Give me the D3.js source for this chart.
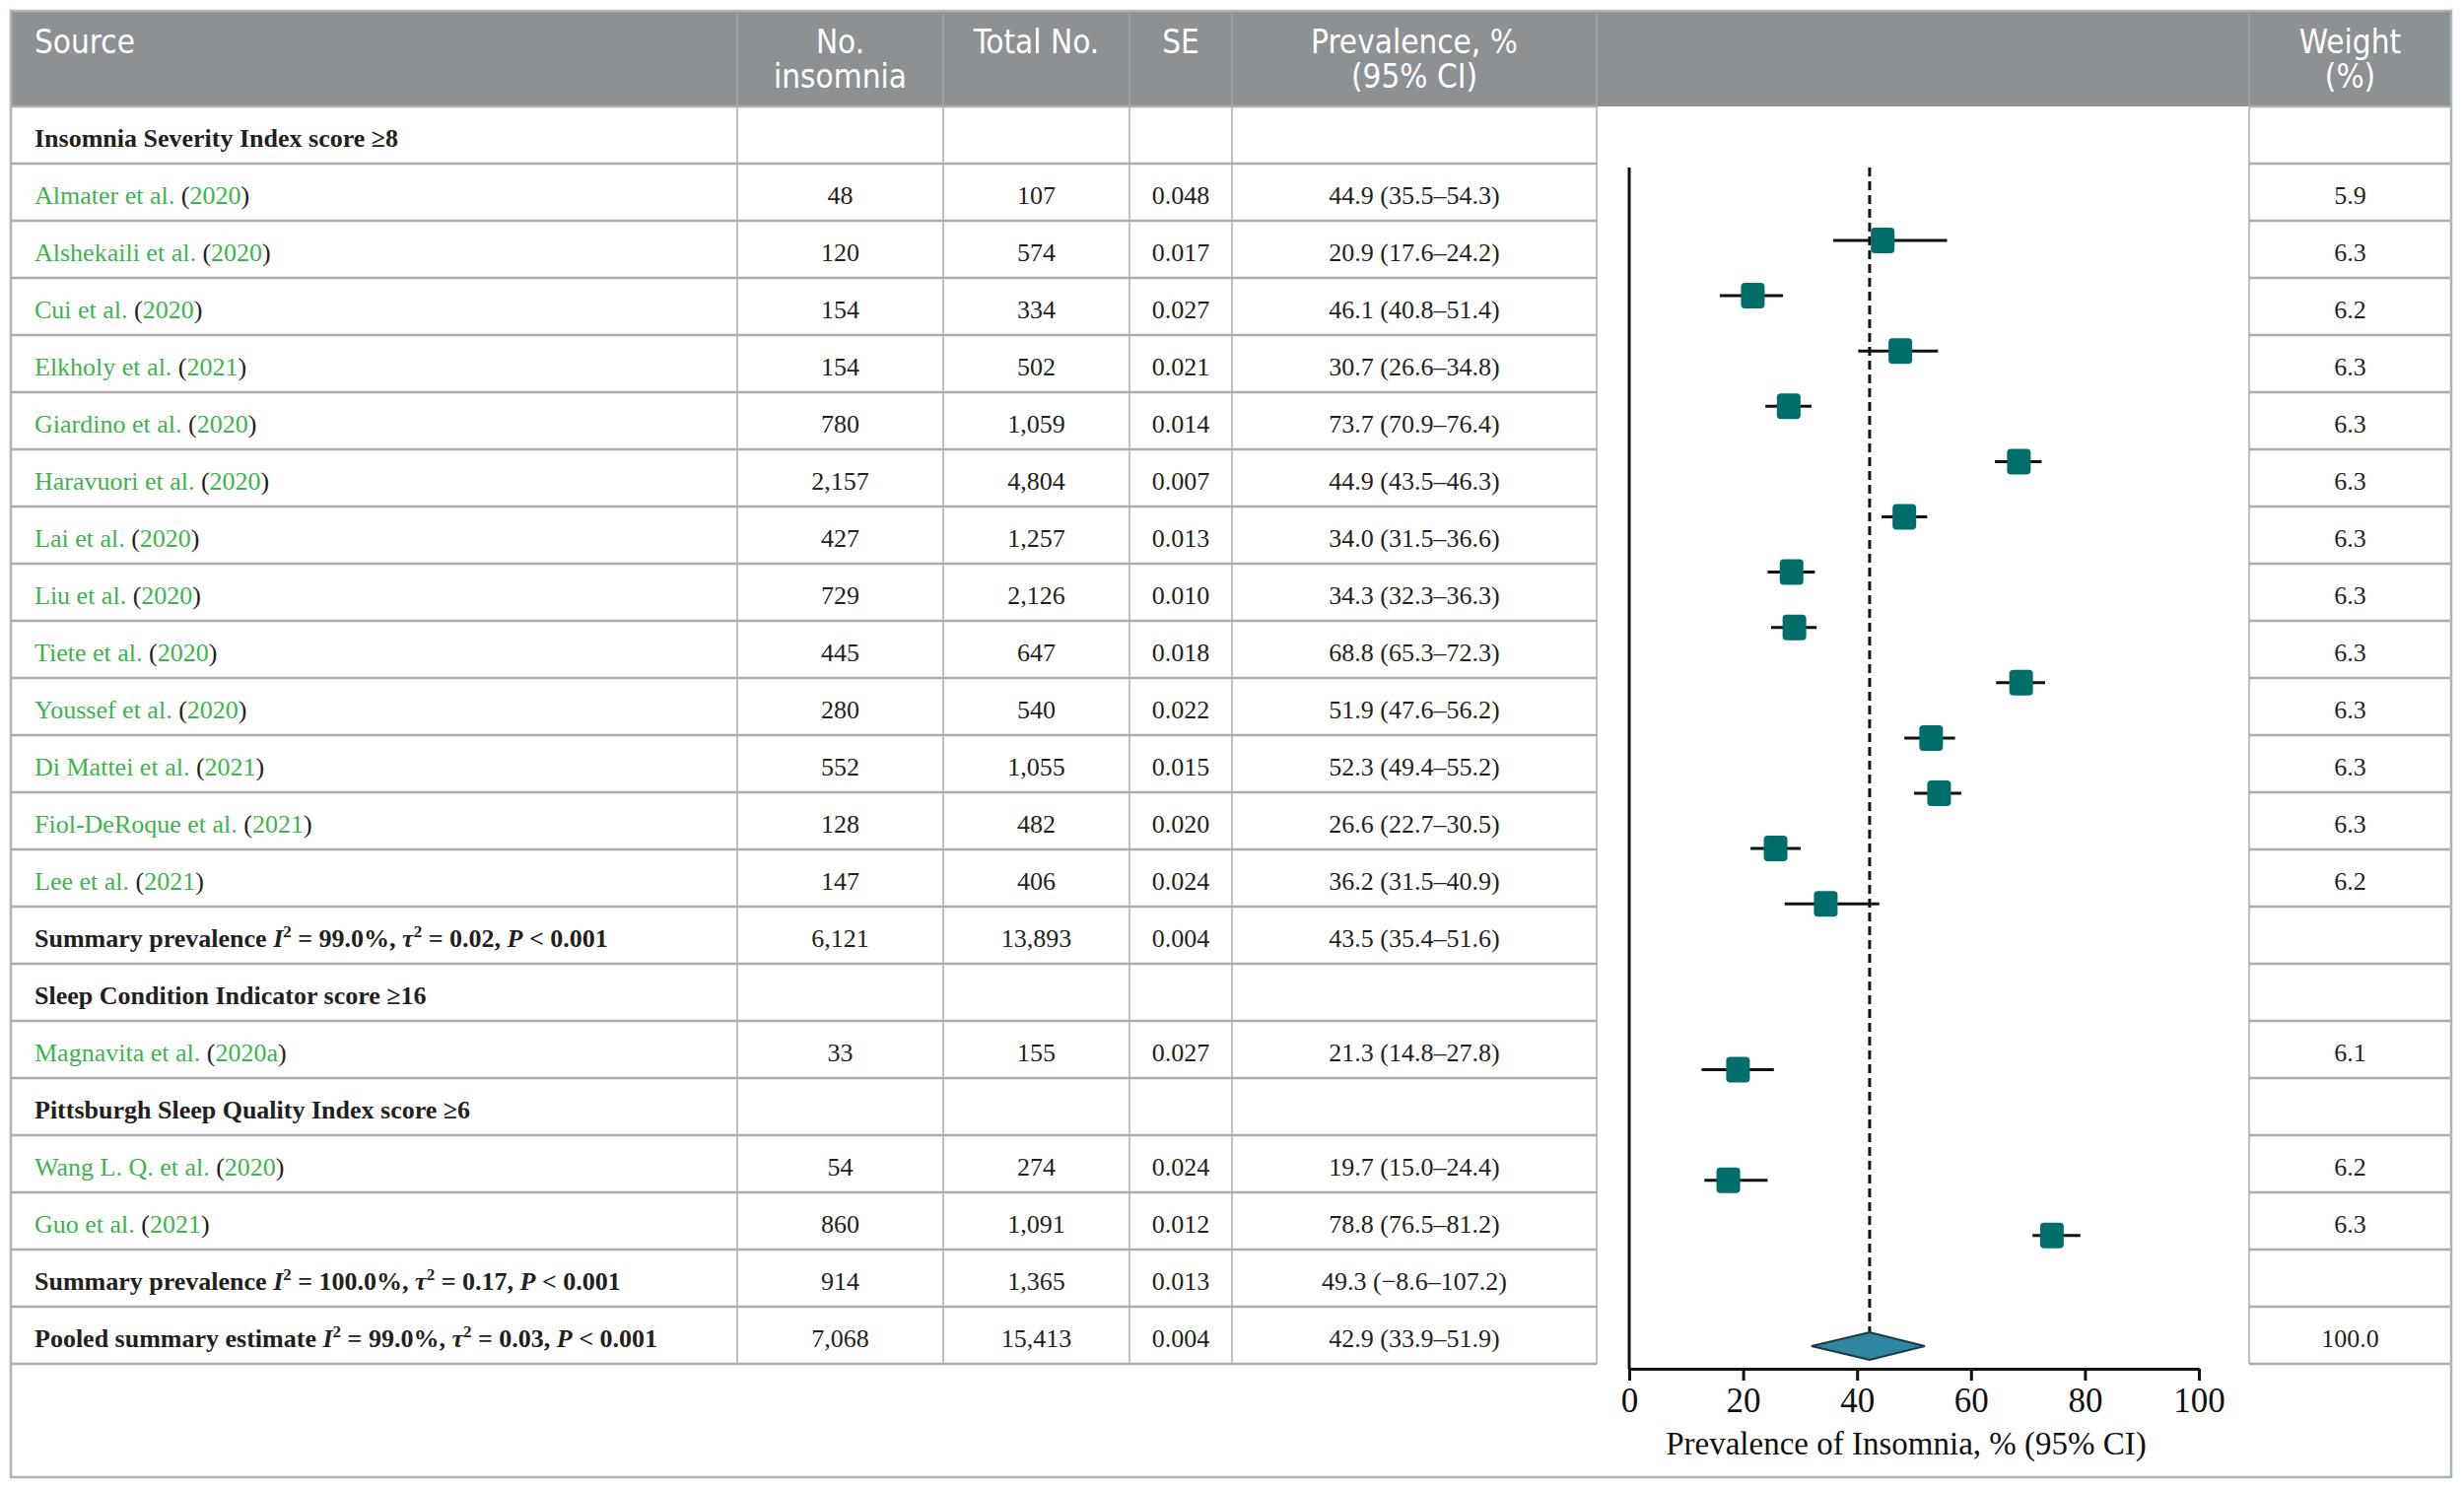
<!DOCTYPE html>
<html>
<head>
<meta charset="utf-8">
<script src="https://cdn.jsdelivr.net/npm/d3@7"></script>
<style>
  body { margin: 0; background: #fff; }
  svg { display: block; }
</style>
</head>
<body>
<script>
// table rows, top to bottom (kind: g = group title, s = study, m = summary)
var rowKind = ["g","s","s","s","s","s","s","s","s","s","s","s","s","s","m","g","s","g","s","s","m","m"];
var rowLabel = [
  "Insomnia Severity Index score \u22658",
  "Almater et al.", "Alshekaili et al.", "Cui et al.", "Elkholy et al.", "Giardino et al.",
  "Haravuori et al.", "Lai et al.", "Liu et al.", "Tiete et al.", "Youssef et al.",
  "Di Mattei et al.", "Fiol-DeRoque et al.", "Lee et al.",
  "Summary prevalence",
  "Sleep Condition Indicator score \u226516",
  "Magnavita et al.",
  "Pittsburgh Sleep Quality Index score \u22656",
  "Wang L. Q. et al.", "Guo et al.",
  "Summary prevalence",
  "Pooled summary estimate"
];
var rowYear = ["", "2020","2020","2020","2021","2020","2020","2020","2020","2020","2020","2021","2021","2021",
  "", "", "2020a", "", "2020","2021", "", ""];
var rowNo = ["", "48","120","154","154","780","2,157","427","729","445","280","552","128","147",
  "6,121", "", "33", "", "54","860", "914", "7,068"];
var rowTotal = ["", "107","574","334","502","1,059","4,804","1,257","2,126","647","540","1,055","482","406",
  "13,893", "", "155", "", "274","1,091", "1,365", "15,413"];
var rowSE = ["", "0.048","0.017","0.027","0.021","0.014","0.007","0.013","0.010","0.018","0.022","0.015","0.020","0.024",
  "0.004", "", "0.027", "", "0.024","0.012", "0.013", "0.004"];
var rowPrev = ["",
  "44.9 (35.5\u201354.3)","20.9 (17.6\u201324.2)","46.1 (40.8\u201351.4)","30.7 (26.6\u201334.8)",
  "73.7 (70.9\u201376.4)","44.9 (43.5\u201346.3)","34.0 (31.5\u201336.6)","34.3 (32.3\u201336.3)",
  "68.8 (65.3\u201372.3)","51.9 (47.6\u201356.2)","52.3 (49.4\u201355.2)","26.6 (22.7\u201330.5)",
  "36.2 (31.5\u201340.9)",
  "43.5 (35.4\u201351.6)", "", "21.3 (14.8\u201327.8)", "",
  "19.7 (15.0\u201324.4)","78.8 (76.5\u201381.2)",
  "49.3 (\u22128.6\u2013107.2)","42.9 (33.9\u201351.9)"];
var rowWeight = ["", "5.9","6.3","6.2","6.3","6.3","6.3","6.3","6.3","6.3","6.3","6.3","6.3","6.2",
  "", "", "6.1", "", "6.2","6.3", "", "100.0"];

// heterogeneity stats of the summary rows (rows 14, 20, 21)
var summaryI2 = {14: "99.0%", 20: "100.0%", 21: "99.0%"};
var summaryTau2 = {14: "0.02", 20: "0.17", 21: "0.03"};

// forest marks as drawn in the figure (read off the plot, not the table)
var markRow = [1,2,3,4,5,6,7,8,9,10,11,12,13,16,18,19];
var markEst = [44.5,21.7,47.6,28.0,68.4,48.3,28.5,29.0,68.8,53.0,54.4,25.7,34.5,19.1,17.4,74.2];
var markLo  = [35.8,15.9,40.2,23.9,64.2,44.3,24.3,24.9,64.4,48.3,50.0,21.3,27.3,12.7,13.2,70.8];
var markHi  = [55.8,27.0,54.2,32.0,72.4,52.3,32.6,32.9,73.0,57.2,58.3,30.1,43.9,25.4,24.3,79.2];
var pooledRow = 21, pooledEst = 42.2, pooledLo = 32.0, pooledHi = 51.9;
var xTicks = [0, 20, 40, 60, 80, 100];

var headers = [["Source"], ["No.", "insomnia"], ["Total No."], ["SE"], ["Prevalence, %", "(95% CI)"], [], ["Weight", "(%)"]];
var colEdges = [11, 748, 957, 1146, 1250, 1620, 2282, 2487];

var W = 2500, H = 1509;
var serif = "'Liberation Serif', 'Times New Roman', serif";
var narrow = "'Liberation Sans Narrow', 'DejaVu Sans Condensed', 'Liberation Sans', sans-serif";
var green = "#3cb44b", lineCol = "#ababab";

var svg = d3.select("body").append("svg")
    .attr("width", W)
    .attr("height", H);

var y = d3.scaleBand().domain(d3.range(rowKind.length)).range([108, 1384]);
var x = d3.scaleLinear().domain([0, 100]).range([1653, 2231]);
var yf = d3.scaleLinear().domain([1, 21]).range([244, 1366]);

// header band
svg.append("rect")
    .attr("x", 11).attr("y", 11)
    .attr("width", 2476).attr("height", 97)
    .attr("fill", "#8e9194");

svg.selectAll(".hsep")
    .data(colEdges.slice(1, -1))
    .enter().append("line")
    .attr("x1", function(d) { return d; }).attr("x2", function(d) { return d; })
    .attr("y1", 14).attr("y2", 108)
    .attr("stroke", "#a3a6a8").attr("stroke-width", 1.5);

headers.forEach(function(lines, i) {
  var left = i == 0;
  var cx = left ? 35 : (colEdges[i] + colEdges[i + 1]) / 2;
  lines.forEach(function(t, j) {
    svg.append("text")
        .attr("x", cx)
        .attr("y", 54 + j * 35)
        .attr("text-anchor", left ? "start" : "middle")
        .style("font-family", narrow)
        .style("font-size", "33px")
        .style("font-weight", 300)
        .style("fill", "#fff")
        .text(t);
  });
});

// table grid (the forest column has no row lines)
var grid = svg.append("g").attr("stroke", lineCol).attr("stroke-width", 2.5);
d3.range(rowKind.length + 1).forEach(function(r) {
  var yy = r == rowKind.length ? y.range()[1] : y(r);
  grid.append("line").attr("x1", 11).attr("x2", 1620).attr("y1", yy).attr("y2", yy);
  grid.append("line").attr("x1", 2282).attr("x2", 2487).attr("y1", yy).attr("y2", yy);
});
colEdges.slice(1, -1).forEach(function(cx) {
  grid.append("line").attr("x1", cx).attr("x2", cx).attr("y1", 108).attr("y2", 1384)
      .attr("stroke-width", 1.5);
});

// outer frame
svg.append("rect")
    .attr("x", 11).attr("y", 11)
    .attr("width", 2476).attr("height", 1488)
    .attr("fill", "none")
    .attr("stroke", "#a9b7b3")
    .attr("stroke-width", 2.5);

// table text
var rowsG = svg.append("g").style("font-family", serif).style("font-size", "26px").style("fill", "#231f20");

rowKind.forEach(function(kind, r) {
  var by = y(r) + y.bandwidth() / 2 + 12;
  var lab = rowsG.append("text").attr("x", 35).attr("y", by);
  if (kind == "s") {
    lab.append("tspan").style("fill", green).text(rowLabel[r] + " ");
    lab.append("tspan").text("(");
    lab.append("tspan").style("fill", green).text(rowYear[r]);
    lab.append("tspan").text(")");
  } else if (kind == "g") {
    lab.style("font-weight", "bold").text(rowLabel[r]);
  } else {
    lab.style("font-weight", "bold");
    lab.append("tspan").text(rowLabel[r] + " ");
    lab.append("tspan").style("font-style", "italic").text("I");
    lab.append("tspan").attr("dy", -10).style("font-size", "17px").text("2");
    lab.append("tspan").attr("dy", 10).text(" = " + summaryI2[r] + ", ");
    lab.append("tspan").style("font-style", "italic").text("\u03c4");
    lab.append("tspan").attr("dy", -10).style("font-size", "17px").text("2");
    lab.append("tspan").attr("dy", 10).text(" = " + summaryTau2[r] + ", ");
    lab.append("tspan").style("font-style", "italic").text("P");
    lab.append("tspan").text(" < 0.001");
  }
  [rowNo, rowTotal, rowSE, rowPrev].forEach(function(col, c) {
    if (!col[r]) return;
    rowsG.append("text")
        .attr("x", (colEdges[c + 1] + colEdges[c + 2]) / 2)
        .attr("y", by)
        .attr("text-anchor", "middle")
        .text(col[r]);
  });
  if (rowWeight[r]) {
    rowsG.append("text")
        .attr("x", (colEdges[6] + colEdges[7]) / 2)
        .attr("y", by)
        .attr("text-anchor", "middle")
        .text(rowWeight[r]);
  }
});

// forest plot
var fp = svg.append("g");

fp.append("line")
    .attr("x1", x(0)).attr("x2", x(0))
    .attr("y1", 170).attr("y2", 1389)
    .attr("stroke", "#111").attr("stroke-width", 3);

fp.append("line")
    .attr("x1", x(pooledEst)).attr("x2", x(pooledEst))
    .attr("y1", 170).attr("y2", yf(pooledRow) - 14)
    .attr("stroke", "#111").attr("stroke-width", 3)
    .attr("stroke-dasharray", "9,5");

fp.selectAll(".ci")
    .data(markRow)
    .enter().append("line")
    .attr("x1", function(d, i) { return x(markLo[i]); })
    .attr("x2", function(d, i) { return x(markHi[i]); })
    .attr("y1", function(d) { return yf(d); })
    .attr("y2", function(d) { return yf(d); })
    .attr("stroke", "#111").attr("stroke-width", 3);

fp.selectAll(".box")
    .data(markRow)
    .enter().append("rect")
    .attr("x", function(d, i) { return x(markEst[i]) - 12; })
    .attr("y", function(d) { return yf(d) - 13; })
    .attr("width", 24).attr("height", 26)
    .attr("rx", 4)
    .attr("fill", "#006e6a");

var py = yf(pooledRow);
fp.append("path")
    .attr("d", "M" + x(pooledLo) + "," + py + "L" + x(pooledEst) + "," + (py - 14) +
      "L" + x(pooledHi) + "," + py + "L" + x(pooledEst) + "," + (py + 14) + "Z")
    .attr("fill", "#2e86a1")
    .attr("stroke", "#1a3a44")
    .attr("stroke-width", 2);

var ax = fp.append("g")
    .attr("transform", "translate(0,1389)")
    .call(d3.axisBottom(x).tickValues(xTicks).tickSize(12).tickSizeOuter(0).tickPadding(7));
ax.select(".domain").attr("stroke", "#111").attr("stroke-width", 3);
ax.selectAll(".tick line").attr("stroke", "#111").attr("stroke-width", 3);
ax.selectAll(".tick text")
    .style("font-family", serif)
    .style("font-size", "35px")
    .attr("fill", "#111");

fp.append("text")
    .attr("x", (x(0) + x(100)) / 2 - 8)
    .attr("y", 1476)
    .attr("text-anchor", "middle")
    .style("font-family", serif)
    .style("font-size", "33px")
    .style("fill", "#111")
    .text("Prevalence of Insomnia, % (95% CI)");
</script>
</body>
</html>
